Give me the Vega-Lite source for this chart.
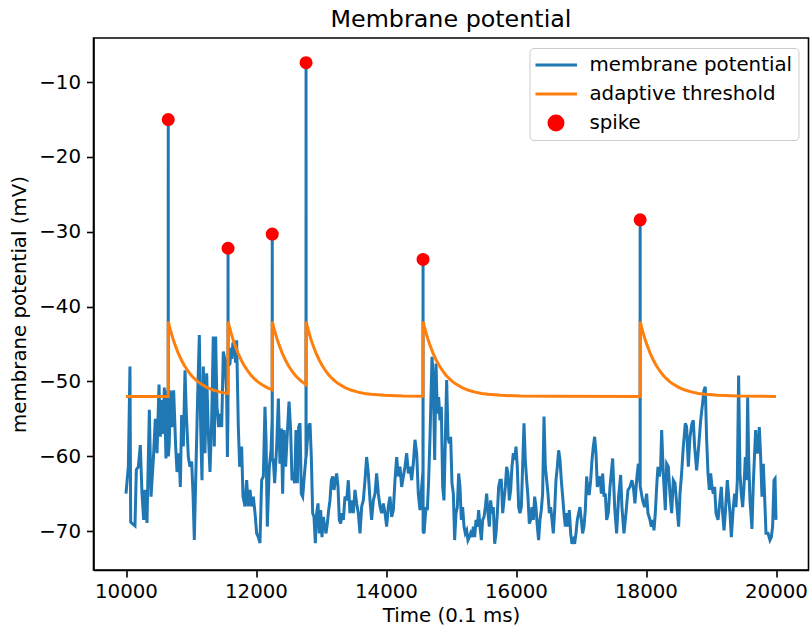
{
  "$schema": "https://vega.github.io/schema/vega-lite/v6.json",
  "width": 715,
  "height": 532,
  "autosize": {"type": "none"},
  "padding": {"left": 93.5, "top": 38, "right": 1.5, "bottom": 60},
  "background": "white",
  "config": {
    "view": {"stroke": "black", "strokeWidth": 1.6},
    "font": "DejaVu Sans",
    "axis": {
      "domainColor": "black", "domainWidth": 1.6, "tickColor": "black", "tickWidth": 1.6, "tickSize": 7,
      "labelFont": "DejaVu Sans", "labelFontSize": 19.8, "labelColor": "black",
      "titleFont": "DejaVu Sans", "titleFontSize": 19.8, "titleFontWeight": "normal", "titleColor": "black", "grid": false
    },
    "legend": {
      "labelFont": "DejaVu Sans", "labelFontSize": 19.8, "labelColor": "black", "labelLimit": 0,
      "strokeColor": "#cccccc", "fillColor": "rgba(255,255,255,0.8)", "cornerRadius": 4, "padding": 6
    }
  },
  "title": {"text": "Membrane potential", "font": "DejaVu Sans", "fontSize": 23.8, "fontWeight": "normal", "color": "black", "offset": 6},
  "datasets": {
    "mem": [
      {"t":10000,"v":-65.0},{"t":10036,"v":-61.4},{"t":10061,"v":-48.0},{"t":10072,"v":-68.8},{"t":10097,"v":-69.0},{"t":10138,"v":-69.3},{"t":10159,"v":-61.8},{"t":10190,"v":-61.4},{"t":10220,"v":-58.5},{"t":10246,"v":-65.0},{"t":10272,"v":-68.5},{"t":10292,"v":-64.5},{"t":10323,"v":-68.9},{"t":10359,"v":-53.8},{"t":10385,"v":-65.4},{"t":10420,"v":-60.5},{"t":10451,"v":-55.0},{"t":10477,"v":-59.6},{"t":10508,"v":-50.4},{"t":10528,"v":-57.4},{"t":10549,"v":-52.5},{"t":10569,"v":-57.0},{"t":10590,"v":-50.8},{"t":10615,"v":-60.3},{"t":10636,"v":-51.2},{"t":10649,"v":-52.0},{"t":10650,"v":-15.0},{"t":10651,"v":-60.0},{"t":10665,"v":-58.5},{"t":10682,"v":-51.2},{"t":10708,"v":-56.1},{"t":10733,"v":-51.2},{"t":10764,"v":-58.7},{"t":10785,"v":-62.1},{"t":10815,"v":-59.6},{"t":10836,"v":-64.1},{"t":10856,"v":-54.5},{"t":10882,"v":-58.7},{"t":10908,"v":-48.5},{"t":10928,"v":-54.3},{"t":10959,"v":-60.1},{"t":10985,"v":-61.4},{"t":11010,"v":-60.7},{"t":11031,"v":-65.0},{"t":11051,"v":-71.2},{"t":11077,"v":-61.4},{"t":11102,"v":-52.1},{"t":11128,"v":-43.8},{"t":11149,"v":-56.1},{"t":11169,"v":-63.2},{"t":11190,"v":-48.0},{"t":11215,"v":-59.6},{"t":11241,"v":-48.9},{"t":11267,"v":-57.0},{"t":11292,"v":-62.1},{"t":11318,"v":-55.2},{"t":11343,"v":-44.0},{"t":11359,"v":-58.7},{"t":11379,"v":-44.0},{"t":11400,"v":-53.4},{"t":11425,"v":-56.1},{"t":11451,"v":-54.3},{"t":11472,"v":-56.1},{"t":11497,"v":-46.0},{"t":11523,"v":-47.2},{"t":11548,"v":-51.6},{"t":11560,"v":-60.1},{"t":11569,"v":-54.0},{"t":11570,"v":-32.2},{"t":11571,"v":-48.0},{"t":11600,"v":-47.6},{"t":11615,"v":-45.5},{"t":11626,"v":-47.0},{"t":11645,"v":-44.8},{"t":11667,"v":-45.4},{"t":11685,"v":-47.5},{"t":11702,"v":-44.5},{"t":11728,"v":-56.1},{"t":11749,"v":-61.4},{"t":11779,"v":-58.7},{"t":11800,"v":-65.4},{"t":11831,"v":-66.7},{"t":11856,"v":-63.2},{"t":11882,"v":-66.7},{"t":11908,"v":-64.5},{"t":11933,"v":-66.7},{"t":11959,"v":-65.4},{"t":11985,"v":-67.6},{"t":12010,"v":-70.3},{"t":12036,"v":-70.8},{"t":12061,"v":-71.6},{"t":12087,"v":-63.2},{"t":12113,"v":-62.7},{"t":12138,"v":-53.4},{"t":12155,"v":-58.0},{"t":12174,"v":-69.4},{"t":12205,"v":-61.4},{"t":12231,"v":-59.2},{"t":12249,"v":-55.0},{"t":12250,"v":-30.3},{"t":12251,"v":-60.5},{"t":12267,"v":-60.5},{"t":12287,"v":-63.6},{"t":12318,"v":-58.7},{"t":12344,"v":-52.3},{"t":12369,"v":-61.0},{"t":12390,"v":-56.3},{"t":12410,"v":-65.0},{"t":12431,"v":-56.5},{"t":12456,"v":-61.4},{"t":12482,"v":-56.9},{"t":12508,"v":-52.7},{"t":12533,"v":-56.5},{"t":12554,"v":-63.2},{"t":12574,"v":-62.7},{"t":12595,"v":-63.6},{"t":12615,"v":-56.5},{"t":12636,"v":-63.6},{"t":12656,"v":-56.1},{"t":12677,"v":-55.6},{"t":12697,"v":-65.0},{"t":12718,"v":-65.4},{"t":12738,"v":-63.2},{"t":12769,"v":-60.0},{"t":12770,"v":-7.4},{"t":12771,"v":-60.1},{"t":12805,"v":-56.1},{"t":12831,"v":-55.6},{"t":12851,"v":-60.1},{"t":12872,"v":-67.6},{"t":12892,"v":-68.1},{"t":12913,"v":-71.6},{"t":12933,"v":-67.6},{"t":12954,"v":-66.3},{"t":12974,"v":-70.3},{"t":12995,"v":-67.2},{"t":13015,"v":-70.8},{"t":13036,"v":-68.1},{"t":13056,"v":-69.4},{"t":13077,"v":-70.3},{"t":13097,"v":-69.0},{"t":13118,"v":-67.2},{"t":13138,"v":-65.9},{"t":13159,"v":-63.2},{"t":13179,"v":-62.7},{"t":13200,"v":-64.5},{"t":13221,"v":-63.2},{"t":13241,"v":-62.3},{"t":13262,"v":-64.1},{"t":13282,"v":-68.5},{"t":13303,"v":-69.0},{"t":13323,"v":-67.6},{"t":13344,"v":-68.5},{"t":13369,"v":-65.4},{"t":13395,"v":-65.9},{"t":13420,"v":-63.2},{"t":13446,"v":-67.6},{"t":13472,"v":-65.9},{"t":13497,"v":-67.6},{"t":13523,"v":-64.5},{"t":13549,"v":-66.3},{"t":13574,"v":-67.6},{"t":13600,"v":-70.3},{"t":13626,"v":-66.7},{"t":13651,"v":-65.9},{"t":13677,"v":-63.2},{"t":13702,"v":-60.1},{"t":13728,"v":-62.3},{"t":13754,"v":-65.9},{"t":13779,"v":-68.5},{"t":13805,"v":-65.9},{"t":13831,"v":-65.0},{"t":13856,"v":-62.3},{"t":13882,"v":-65.0},{"t":13908,"v":-66.7},{"t":13933,"v":-67.6},{"t":13959,"v":-66.3},{"t":13985,"v":-67.6},{"t":14010,"v":-69.4},{"t":14036,"v":-66.7},{"t":14061,"v":-65.4},{"t":14087,"v":-68.1},{"t":14113,"v":-67.2},{"t":14138,"v":-63.2},{"t":14164,"v":-60.1},{"t":14190,"v":-62.7},{"t":14215,"v":-61.4},{"t":14241,"v":-64.1},{"t":14267,"v":-62.7},{"t":14292,"v":-61.4},{"t":14318,"v":-59.6},{"t":14344,"v":-62.3},{"t":14369,"v":-61.4},{"t":14395,"v":-63.2},{"t":14420,"v":-61.0},{"t":14446,"v":-57.8},{"t":14472,"v":-59.6},{"t":14497,"v":-65.0},{"t":14523,"v":-67.2},{"t":14549,"v":-64.1},{"t":14569,"v":-62.0},{"t":14570,"v":-33.7},{"t":14571,"v":-70.0},{"t":14585,"v":-70.3},{"t":14615,"v":-66.8},{"t":14636,"v":-67.2},{"t":14656,"v":-63.2},{"t":14677,"v":-57.4},{"t":14708,"v":-46.7},{"t":14728,"v":-49.8},{"t":14749,"v":-60.5},{"t":14769,"v":-47.6},{"t":14790,"v":-54.3},{"t":14810,"v":-52.1},{"t":14831,"v":-55.2},{"t":14851,"v":-53.4},{"t":14872,"v":-64.1},{"t":14892,"v":-65.9},{"t":14913,"v":-57.8},{"t":14933,"v":-49.8},{"t":14954,"v":-57.4},{"t":14974,"v":-58.3},{"t":14995,"v":-57.4},{"t":15015,"v":-63.6},{"t":15036,"v":-65.0},{"t":15056,"v":-71.2},{"t":15077,"v":-67.6},{"t":15097,"v":-66.8},{"t":15118,"v":-62.3},{"t":15138,"v":-64.1},{"t":15159,"v":-68.5},{"t":15179,"v":-66.8},{"t":15200,"v":-69.4},{"t":15220,"v":-70.3},{"t":15241,"v":-69.9},{"t":15261,"v":-71.2},{"t":15282,"v":-70.8},{"t":15302,"v":-70.3},{"t":15323,"v":-70.8},{"t":15344,"v":-69.4},{"t":15364,"v":-70.8},{"t":15385,"v":-68.5},{"t":15405,"v":-69.4},{"t":15426,"v":-67.2},{"t":15446,"v":-69.4},{"t":15467,"v":-71.2},{"t":15487,"v":-68.5},{"t":15508,"v":-68.1},{"t":15528,"v":-66.8},{"t":15549,"v":-65.0},{"t":15569,"v":-67.6},{"t":15590,"v":-69.4},{"t":15610,"v":-65.9},{"t":15631,"v":-67.6},{"t":15651,"v":-66.8},{"t":15672,"v":-71.7},{"t":15692,"v":-70.3},{"t":15713,"v":-67.6},{"t":15733,"v":-64.1},{"t":15754,"v":-63.2},{"t":15774,"v":-63.2},{"t":15795,"v":-67.6},{"t":15815,"v":-65.9},{"t":15836,"v":-64.1},{"t":15856,"v":-61.4},{"t":15877,"v":-62.3},{"t":15897,"v":-65.9},{"t":15918,"v":-64.5},{"t":15938,"v":-61.4},{"t":15959,"v":-59.6},{"t":15979,"v":-60.5},{"t":16000,"v":-58.7},{"t":16020,"v":-61.4},{"t":16041,"v":-66.8},{"t":16061,"v":-67.6},{"t":16082,"v":-66.8},{"t":16102,"v":-61.4},{"t":16123,"v":-55.6},{"t":16143,"v":-60.5},{"t":16164,"v":-63.2},{"t":16184,"v":-65.4},{"t":16205,"v":-69.0},{"t":16225,"v":-68.5},{"t":16246,"v":-66.8},{"t":16266,"v":-68.5},{"t":16287,"v":-65.4},{"t":16307,"v":-66.8},{"t":16328,"v":-69.4},{"t":16348,"v":-71.2},{"t":16369,"v":-68.5},{"t":16389,"v":-67.2},{"t":16410,"v":-65.0},{"t":16431,"v":-54.7},{"t":16451,"v":-61.4},{"t":16472,"v":-63.2},{"t":16492,"v":-65.0},{"t":16513,"v":-67.6},{"t":16533,"v":-66.8},{"t":16554,"v":-68.5},{"t":16574,"v":-70.3},{"t":16595,"v":-67.2},{"t":16615,"v":-63.2},{"t":16636,"v":-61.4},{"t":16656,"v":-59.2},{"t":16677,"v":-60.5},{"t":16697,"v":-63.2},{"t":16718,"v":-65.4},{"t":16738,"v":-67.6},{"t":16759,"v":-69.4},{"t":16779,"v":-67.6},{"t":16800,"v":-69.4},{"t":16820,"v":-67.2},{"t":16841,"v":-70.3},{"t":16861,"v":-71.7},{"t":16882,"v":-71.2},{"t":16902,"v":-71.7},{"t":16923,"v":-70.3},{"t":16943,"v":-68.5},{"t":16964,"v":-67.6},{"t":16984,"v":-66.8},{"t":17005,"v":-68.5},{"t":17025,"v":-70.3},{"t":17046,"v":-69.4},{"t":17066,"v":-67.2},{"t":17087,"v":-62.7},{"t":17108,"v":-65.0},{"t":17128,"v":-65.0},{"t":17149,"v":-63.2},{"t":17169,"v":-60.5},{"t":17190,"v":-58.7},{"t":17210,"v":-57.4},{"t":17231,"v":-59.6},{"t":17251,"v":-64.1},{"t":17272,"v":-63.2},{"t":17292,"v":-62.7},{"t":17313,"v":-65.0},{"t":17333,"v":-62.3},{"t":17354,"v":-65.4},{"t":17374,"v":-65.0},{"t":17395,"v":-68.5},{"t":17420,"v":-67.6},{"t":17446,"v":-64.1},{"t":17487,"v":-60.3},{"t":17518,"v":-66.8},{"t":17548,"v":-70.3},{"t":17579,"v":-65.4},{"t":17610,"v":-62.5},{"t":17630,"v":-66.8},{"t":17661,"v":-70.3},{"t":17692,"v":-67.6},{"t":17723,"v":-64.5},{"t":17753,"v":-64.1},{"t":17784,"v":-63.2},{"t":17805,"v":-64.1},{"t":17830,"v":-66.3},{"t":17856,"v":-63.2},{"t":17882,"v":-61.0},{"t":17907,"v":-63.6},{"t":17909,"v":-62.0},{"t":17910,"v":-28.4},{"t":17911,"v":-64.0},{"t":17948,"v":-65.9},{"t":17979,"v":-66.8},{"t":18010,"v":-65.0},{"t":18030,"v":-67.6},{"t":18061,"v":-68.5},{"t":18082,"v":-69.4},{"t":18102,"v":-68.5},{"t":18123,"v":-69.9},{"t":18143,"v":-67.6},{"t":18164,"v":-64.1},{"t":18184,"v":-61.4},{"t":18205,"v":-62.7},{"t":18225,"v":-61.4},{"t":18241,"v":-56.5},{"t":18266,"v":-62.3},{"t":18297,"v":-67.2},{"t":18318,"v":-61.0},{"t":18343,"v":-61.4},{"t":18369,"v":-65.0},{"t":18395,"v":-67.6},{"t":18420,"v":-63.2},{"t":18446,"v":-63.6},{"t":18472,"v":-66.3},{"t":18502,"v":-69.4},{"t":18523,"v":-65.0},{"t":18548,"v":-62.3},{"t":18574,"v":-58.7},{"t":18605,"v":-55.6},{"t":18625,"v":-56.1},{"t":18651,"v":-61.4},{"t":18677,"v":-57.4},{"t":18707,"v":-55.6},{"t":18728,"v":-55.2},{"t":18748,"v":-58.7},{"t":18779,"v":-61.9},{"t":18810,"v":-58.7},{"t":18841,"v":-55.2},{"t":18871,"v":-52.9},{"t":18892,"v":-51.2},{"t":18912,"v":-50.7},{"t":18933,"v":-57.8},{"t":18954,"v":-62.3},{"t":18974,"v":-64.5},{"t":18995,"v":-62.3},{"t":19015,"v":-64.1},{"t":19036,"v":-65.0},{"t":19056,"v":-64.1},{"t":19077,"v":-67.6},{"t":19108,"v":-68.5},{"t":19138,"v":-65.9},{"t":19159,"v":-64.1},{"t":19179,"v":-67.6},{"t":19200,"v":-69.9},{"t":19220,"v":-67.6},{"t":19251,"v":-63.2},{"t":19272,"v":-65.4},{"t":19292,"v":-67.6},{"t":19313,"v":-70.8},{"t":19343,"v":-66.8},{"t":19364,"v":-65.0},{"t":19384,"v":-66.8},{"t":19405,"v":-63.2},{"t":19425,"v":-49.2},{"t":19446,"v":-62.3},{"t":19466,"v":-65.0},{"t":19487,"v":-66.8},{"t":19507,"v":-64.1},{"t":19528,"v":-60.1},{"t":19548,"v":-63.2},{"t":19564,"v":-52.1},{"t":19579,"v":-60.1},{"t":19600,"v":-65.9},{"t":19630,"v":-69.7},{"t":19651,"v":-63.6},{"t":19671,"v":-59.6},{"t":19687,"v":-56.5},{"t":19702,"v":-59.2},{"t":19723,"v":-59.6},{"t":19743,"v":-56.1},{"t":19764,"v":-60.1},{"t":19784,"v":-65.4},{"t":19805,"v":-61.0},{"t":19825,"v":-65.4},{"t":19846,"v":-70.3},{"t":19877,"v":-70.3},{"t":19907,"v":-71.2},{"t":19928,"v":-70.8},{"t":19948,"v":-69.4},{"t":19969,"v":-63.2},{"t":19985,"v":-63.0},{"t":20000,"v":-68.5}
    ],
    "thr": [
      {"t":10000,"v":-52},{"t":10649,"v":-52},{"t":10650,"v":-42},{"t":10675,"v":-42.85},{"t":10700,"v":-43.63},{"t":10725,"v":-44.35},{"t":10750,"v":-45.0},{"t":10800,"v":-46.15},{"t":10850,"v":-47.1},{"t":10900,"v":-47.9},{"t":10950,"v":-48.57},{"t":11000,"v":-49.13},{"t":11050,"v":-49.6},{"t":11100,"v":-50.0},{"t":11150,"v":-50.32},{"t":11250,"v":-50.83},{"t":11350,"v":-51.18},{"t":11450,"v":-51.43},{"t":11569,"v":-51.62},
      {"t":11570,"v":-42},{"t":11595,"v":-42.85},{"t":11620,"v":-43.63},{"t":11645,"v":-44.35},{"t":11670,"v":-45.0},{"t":11720,"v":-46.15},{"t":11770,"v":-47.1},{"t":11820,"v":-47.9},{"t":11870,"v":-48.57},{"t":11920,"v":-49.13},{"t":11970,"v":-49.6},{"t":12020,"v":-50.0},{"t":12070,"v":-50.32},{"t":12170,"v":-50.83},{"t":12249,"v":-51.12},
      {"t":12250,"v":-42},{"t":12275,"v":-42.85},{"t":12300,"v":-43.63},{"t":12325,"v":-44.35},{"t":12350,"v":-45.0},{"t":12400,"v":-46.15},{"t":12450,"v":-47.1},{"t":12500,"v":-47.9},{"t":12550,"v":-48.57},{"t":12600,"v":-49.13},{"t":12650,"v":-49.6},{"t":12700,"v":-50.0},{"t":12769,"v":-50.43},
      {"t":12770,"v":-42},{"t":12795,"v":-42.85},{"t":12820,"v":-43.63},{"t":12845,"v":-44.35},{"t":12870,"v":-45.0},{"t":12920,"v":-46.15},{"t":12970,"v":-47.1},{"t":13020,"v":-47.9},{"t":13070,"v":-48.57},{"t":13120,"v":-49.13},{"t":13170,"v":-49.6},{"t":13220,"v":-50.0},{"t":13270,"v":-50.32},{"t":13370,"v":-50.83},{"t":13470,"v":-51.18},{"t":13570,"v":-51.43},{"t":13670,"v":-51.6},{"t":13770,"v":-51.72},{"t":13970,"v":-51.86},{"t":14270,"v":-51.95},{"t":14569,"v":-51.98},
      {"t":14570,"v":-42},{"t":14595,"v":-42.85},{"t":14620,"v":-43.63},{"t":14645,"v":-44.35},{"t":14670,"v":-45.0},{"t":14720,"v":-46.15},{"t":14770,"v":-47.1},{"t":14820,"v":-47.9},{"t":14870,"v":-48.57},{"t":14920,"v":-49.13},{"t":14970,"v":-49.6},{"t":15020,"v":-50.0},{"t":15070,"v":-50.32},{"t":15170,"v":-50.83},{"t":15270,"v":-51.18},{"t":15370,"v":-51.43},{"t":15470,"v":-51.6},{"t":15570,"v":-51.72},{"t":15770,"v":-51.86},{"t":16070,"v":-51.95},{"t":16570,"v":-51.99},{"t":17909,"v":-52},
      {"t":17910,"v":-42},{"t":17935,"v":-42.85},{"t":17960,"v":-43.63},{"t":17985,"v":-44.35},{"t":18010,"v":-45.0},{"t":18060,"v":-46.15},{"t":18110,"v":-47.1},{"t":18160,"v":-47.9},{"t":18210,"v":-48.57},{"t":18260,"v":-49.13},{"t":18310,"v":-49.6},{"t":18360,"v":-50.0},{"t":18410,"v":-50.32},{"t":18510,"v":-50.83},{"t":18610,"v":-51.18},{"t":18710,"v":-51.43},{"t":18810,"v":-51.6},{"t":18910,"v":-51.72},{"t":19110,"v":-51.86},{"t":19410,"v":-51.95},{"t":20000,"v":-52}
    ],
    "spk": [
      {"t":10650,"v":-15.0},{"t":11570,"v":-32.2},{"t":12250,"v":-30.3},{"t":12770,"v":-7.4},{"t":14570,"v":-33.7},{"t":17910,"v":-28.4}
    ]
  },
  "encoding": {
    "x": {"field": "t", "type": "quantitative", "scale": {"domain": [9500, 20500], "nice": false, "zero": false},
      "axis": {"values": [10000, 12000, 14000, 16000, 18000, 20000], "format": "d", "title": "Time (0.1 ms)", "labelPadding": 4, "titlePadding": 5}},
    "y": {"field": "v", "type": "quantitative", "scale": {"domain": [-75.2, -4.1], "nice": false, "zero": false},
      "axis": {"values": [-70, -60, -50, -40, -30, -20, -10], "format": "d", "title": "membrane potential (mV)", "labelPadding": 6, "titlePadding": 9}}
  },
  "layer": [
    {
      "data": {"name": "mem"},
      "mark": {"type": "line", "strokeWidth": 3, "clip": true},
      "encoding": {
        "color": {"datum": "membrane potential", "type": "nominal",
          "scale": {"domain": ["membrane potential", "adaptive threshold", "spike"], "range": ["#1f77b4", "#ff7f0e", "#ff0000"]},
          "legend": {
            "title": null, "orient": "top-right", "offset": 10, "rowPadding": 7, "clipHeight": 22, "symbolOffset": -2, "labelOffset": 11, "symbolType": "stroke",
            "encode": {"symbols": {"update": {
              "shape": {"signal": "datum.value === 'spike' ? 'circle' : 'stroke'"},
              "size": {"signal": "datum.value === 'spike' ? 196 : 1764"},
              "fill": {"signal": "datum.value === 'spike' ? '#ff0000' : 'transparent'"},
              "stroke": {"signal": "datum.value === 'spike' ? 'transparent' : scale('color', datum.value)"},
              "strokeWidth": {"value": 3},
              "opacity": {"value": 1}
            }}}
          }
        }
      }
    },
    {
      "data": {"name": "thr"},
      "mark": {"type": "line", "strokeWidth": 3, "clip": true},
      "encoding": {"color": {"datum": "adaptive threshold", "type": "nominal"}}
    },
    {
      "data": {"name": "spk"},
      "mark": {"type": "point", "filled": true, "size": 170, "opacity": 1},
      "encoding": {"color": {"datum": "spike", "type": "nominal"}}
    }
  ]
}
